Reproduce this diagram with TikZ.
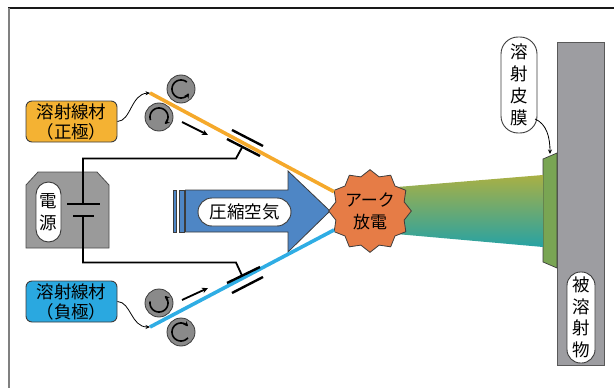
\documentclass[tikz,border=0pt]{standalone}
\usepackage{fontspec}
\newfontfamily\jp{Noto Sans CJK JP}
\usetikzlibrary{shapes.geometric,arrows.meta,calc}

\definecolor{edge}{HTML}{3C3C3C}
\definecolor{boxorange}{HTML}{F4B233}
\definecolor{wireorange}{HTML}{F5A92B}
\definecolor{boxblue}{HTML}{2AA8E0}
\definecolor{wireblue}{HTML}{2FADE4}
\definecolor{arcorange}{HTML}{E67C46}
\definecolor{airblue}{HTML}{4E86C5}
\definecolor{rollergray}{HTML}{8A8A8A}
\definecolor{psgray}{HTML}{9A9A9A}
\definecolor{plategray}{HTML}{9D9DA1}
\definecolor{filmgreen}{HTML}{79A553}
\definecolor{sprayt}{HTML}{A9B044}
\definecolor{spraym}{HTML}{74AA5E}
\definecolor{sprayb}{HTML}{27A2A4}

\begin{document}
\begin{tikzpicture}[x=1pt,y=-1pt,
  jtext/.style={font=\jp\fontsize{17.5}{20}\selectfont, align=center, inner sep=0pt},
  vtext/.style={font=\jp\fontsize{17.5}{21.5}\selectfont, align=center, inner sep=0pt},
  labelbox/.style={jtext, draw=edge, line width=0.9pt, rounded corners=6pt,
    minimum width=91pt, minimum height=41pt},
  pill/.style={draw=edge, fill=white, line width=0.9pt},
  roller/.style={circle, fill=rollergray, draw=edge, line width=0.8pt, minimum size=28pt, inner sep=0pt},
  rot/.style={line width=1.6pt, -{Stealth[length=4.5pt,width=5pt]}},
  feed/.style={line width=1.8pt, -{Stealth[length=6pt,width=5.5pt]}},
  lead/.style={line width=1.8pt},
  plate/.style={line width=2.6pt},
  note/.style={line width=0.8pt, -{Stealth[length=4.5pt,width=4pt]}},
  wire/.style={line width=3.6pt}
]
\useasboundingbox (0,0) rectangle (614,388);

% frame
\draw[line width=1.6pt, black!90] (8,8) -- (614,8);
\draw[line width=2.2pt, black!50] (8.6,8) -- (8.6,388);

% substrate and coating
\draw[fill=plategray, draw=black!65, line width=0.8pt] (557,42) rectangle (604,365);
\draw[fill=filmgreen, draw=edge, line width=0.7pt]
  (543,159) -- (557,153) -- (557,268) -- (543,262) -- cycle;

% spray jet
\shade[top color=sprayt, middle color=spraym, bottom color=sprayb]
  (385,188) -- (543,175) -- (543,247) -- (385,233) -- cycle;

% compressed air arrow
\draw[fill=airblue, draw=edge, line width=0.8pt] (173.5,190) rectangle (176.5,232);
\draw[fill=airblue, draw=edge, line width=0.8pt] (179,190) rectangle (184,232);
\draw[fill=airblue, draw=edge, line width=0.8pt]
  (185.5,190) -- (288,190) -- (288,171) -- (330,211) -- (288,252) -- (288,232) -- (185.5,232) -- cycle;
\node[pill, vtext, minimum width=93pt, minimum height=28pt, rounded corners=14pt]
  (air) at (244.5,212) {圧縮空気};

% power supply
\draw[fill=psgray, draw=black!70, line width=0.8pt]
  (26,248) -- (26,185) -- (38,172) -- (97,172) -- (109,185) -- (109,248) -- cycle;

% arc
\node[star, star points=12, star point ratio=1.17, minimum size=73pt, fill=arcorange,
  draw=edge, line width=0.8pt, jtext, font=\jp\fontsize{17}{22}\selectfont]
  (arc) at (370,211) {アーク\\放電};

% wire feeds
\coordinate (wA) at (150,93);
\coordinate (wB) at (150,327);
\draw[wire, wireorange] (wA) -- (arc);
\draw[wire, wireblue] (wB) -- (arc);

% contact tips
\coordinate (tA1) at (232,130); \coordinate (tA2) at (263,146);
\coordinate (tA3) at (227,139); \coordinate (tA4) at (260,156);
\coordinate (tB1) at (227,283); \coordinate (tB2) at (260,267);
\coordinate (tB3) at (232,293); \coordinate (tB4) at (263,277);
\draw[plate, line width=2.4pt] (tA1) -- (tA2);
\draw[plate, line width=2.4pt] (tA3) -- (tA4);
\draw[plate, line width=2.4pt] (tB1) -- (tB2);
\draw[plate, line width=2.4pt] (tB3) -- (tB4);

% battery and leads
\coordinate (bp) at (83,204);
\coordinate (bn) at (83,216);
\coordinate (cA) at (242,147.5);
\coordinate (cB) at (242,275.5);
\draw[lead] (cA) -- (236,158.5) -- (83,158.5) -- (bp);
\draw[lead] (bn) -- (83,262.5) -- (236,262.5) -- (cB);
\draw[plate] (67,204) -- (100,204);
\draw[plate] (73,216) -- (94,216);
\node[pill, vtext, minimum width=25pt, minimum height=60pt, rounded corners=12.5pt]
  (ps) at (48.5,212) {電\\源};

% feed rollers
\node[roller] (r1) at (181,89) {};
\node[roller] (r2) at (159,117) {};
\node[roller] (r3) at (159,303) {};
\node[roller] (r4) at (181,332) {};
\begin{scope}[shift={(r1.center)}]
  \draw[rot] plot[domain=50:330, samples=40, smooth] ({9*cos(\x)},{-9*sin(\x)});
\end{scope}
\begin{scope}[shift={(r2.center)}]
  \draw[rot] plot[domain=0:250, samples=40, smooth] ({9*cos(200-\x)},{-9*sin(200-\x)});
\end{scope}
\begin{scope}[shift={(r3.center)}]
  \draw[rot] plot[domain=170:410, samples=40, smooth] ({9*cos(\x)},{-9*sin(\x)});
\end{scope}
\begin{scope}[shift={(r4.center)}]
  \draw[rot] plot[domain=0:280, samples=40, smooth] ({9*cos(320-\x)},{-9*sin(320-\x)});
\end{scope}

% feed direction
\coordinate (fA1) at (182,122); \coordinate (fA2) at (208,135);
\coordinate (fB1) at (182,300); \coordinate (fB2) at (208,288);
\draw[feed] (fA1) -- (fA2);
\draw[feed] (fB1) -- (fB2);

% wire labels
\node[labelbox, fill=boxorange] (anode) at (71.5,121.5) {溶射線材\\（正極）};
\node[labelbox, fill=boxblue] (cathode) at (71.5,301.5) {溶射線材\\（負極）};
\draw[note] (anode.east) .. controls (131,121) and (131,94) .. (wA);
\draw[note] (cathode.east) .. controls (131,302) and (131,327) .. (wB);

% coating and substrate labels
\node[pill, vtext, font=\jp\fontsize{17.5}{22}\selectfont, minimum width=36pt, minimum height=96pt, rounded corners=17pt]
  (coat) at (519,85) {溶\\射\\皮\\膜};
\coordinate (filmtop) at (550,154);
\draw[note] (535,119) .. controls (547,124) and (550,138) .. (filmtop);
\node[pill, vtext, minimum width=28pt, minimum height=91pt, rounded corners=13.5pt]
  (sub) at (581,317.5) {被\\溶\\射\\物};
\end{tikzpicture}
\end{document}
